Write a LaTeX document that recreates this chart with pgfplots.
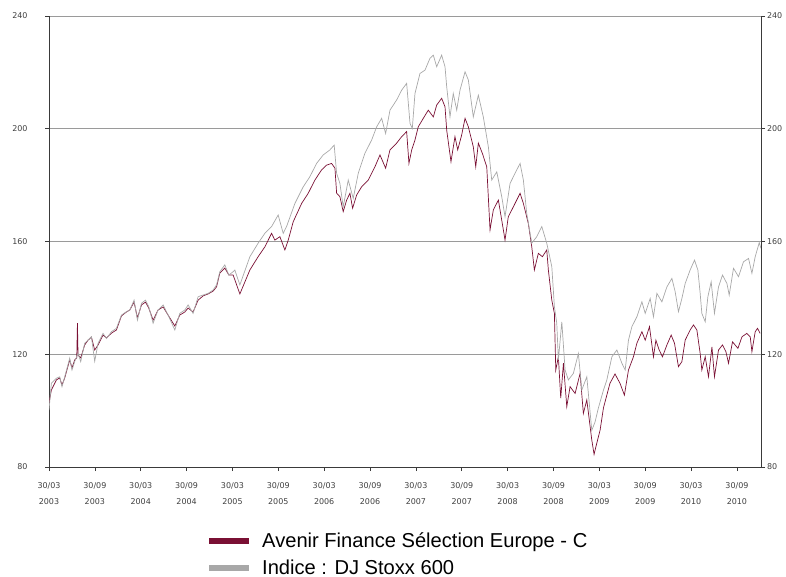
\documentclass[border=0pt]{standalone}
\usepackage{fontspec}
\setmainfont{Liberation Sans}
\newfontfamily\tickfont{DejaVu Sans}
\usepackage{pgfplots}
\pgfplotsset{compat=1.18}
\definecolor{fund}{HTML}{7A1034}
\definecolor{idx}{HTML}{A8A8A8}
\definecolor{legidx}{HTML}{999999}
\definecolor{gridc}{HTML}{9A9A9A}
\definecolor{axc}{HTML}{3A3A3A}
\definecolor{lab}{HTML}{404040}
\begin{document}
\begin{tikzpicture}
\useasboundingbox (-49bp,-110bp) rectangle (737bp,467bp);
\pgfplotsset{common/.style={scale only axis, width=712bp, height=451bp,
  at={(0bp,0bp)}, anchor=south west,
  xmin=0, xmax=93.15, ymin=80, ymax=240, ytick={80,120,160,200,240},
  tick align=outside, major tick length=4bp,
  tick style={axc, line width=0.6bp},
  axis line style={axc, line width=0.8bp},
  ticklabel style={font=\tickfont\fontsize{8}{16}\selectfont, text=lab},
  /pgf/number format/assume math mode=true}}
\begin{axis}[common, axis x line*=bottom, axis y line*=left,
  ymajorgrids, grid style={gridc, line width=0.7bp},
  xtick={0,6,...,90},
  xticklabels={{30/03\\2003},{30/09\\2003},{30/03\\2004},{30/09\\2004},{30/03\\2005},{30/09\\2005},{30/03\\2006},{30/09\\2006},{30/03\\2007},{30/09\\2007},{30/03\\2008},{30/09\\2008},{30/03\\2009},{30/09\\2009},{30/03\\2010},{30/09\\2010}},
  xticklabel style={align=center, yshift=-8bp},
  yticklabel style={xshift=-14bp},
  legend style={at={(0.2205,-0.141)}, anchor=north west, draw=none, fill=none,
    inner sep=0pt, font=\fontsize{20.2}{23}\selectfont, row sep=6.5bp,
    /tikz/every odd column/.style={column sep=4bp},
    nodes={inner xsep=6bp}},
  legend cell align=left,
  legend image code/.code={\draw[#1, line width=6bp] (0bp,0bp) -- (40bp,0bp);},
]
\addplot[fund, line width=0.7bp] coordinates {
(0,102.7) (0.31,107.3) (0.97,110.9) (1.40,111.6) (1.70,109.1) (2.06,111.6) (2.71,118) (3.01,115.1) (3.36,118) (3.63,118.7) (3.72,131) (3.80,119.7) (4.15,118.7) (4.67,123.3) (5.11,125) (5.55,126.1) (5.98,121.5) (6.42,123.3) (7.07,126.8) (7.52,125.8) (8.17,127.5) (8.82,128.6) (9.48,133.6) (10.13,135) (10.57,135.7) (11.13,138.5) (11.57,132.9) (12.10,137.5) (12.62,138.5) (13.05,136.4) (13.62,132.1) (14.27,135.7) (14.93,136.8) (15.58,133.9) (16.46,130) (17.11,133.9) (17.77,135) (18.20,136.4) (18.85,135) (19.51,139.2) (20.16,140.7) (20.82,141.4) (21.47,142.4) (21.92,143.9) (22.35,148.8) (23.00,150.6) (23.53,148.1) (24.09,148.1) (24.97,141.4) (25.62,145.6) (26.28,149.9) (27.36,154.6) (28.24,158.1) (29.12,162.9) (29.55,160.5) (30.21,161.7) (30.86,157) (31.30,160.5) (31.95,167) (33.05,173.5) (33.91,177.1) (34.79,181.8) (35.66,185.4) (36.32,187.1) (36.97,187.7) (37.41,186) (37.63,177.1) (38.06,175.9) (38.49,170.6) (38.94,174.7) (39.37,177.1) (39.72,171.8) (40.25,176.5) (40.90,179.4) (41.77,181.8) (42.64,186.5) (43.30,190.7) (44.04,186) (44.61,192.5) (45.48,194.9) (46.14,197.2) (46.79,199) (47.09,187.7) (47.45,192.5) (47.88,196) (48.31,200.7) (48.97,203.7) (49.62,206.6) (50.28,204.2) (50.72,208.4) (51.37,210.8) (51.81,207.8) (52.03,199.5) (52.59,188.3) (53.11,197.2) (53.47,192.5) (53.99,197.8) (54.43,203.7) (54.86,200.7) (55.51,193.6) (55.83,186.5) (56.17,194.9) (56.69,191.3) (57.27,186.5) (57.70,164.1) (58.13,171.2) (58.79,174.7) (59.23,167.6) (59.66,160.5) (60.09,168.8) (60.75,172.3) (61.63,177.1) (62.06,173.5) (62.71,166.4) (63.16,158.1) (63.50,149.9) (64.02,155.8) (64.55,154.6) (65.12,157) (65.33,149.9) (65.78,139.2) (66.12,134.5) (66.30,114.4) (66.64,119.1) (66.95,104.4) (67.30,116.8) (67.74,101.4) (68.17,108.5) (68.83,106.1) (69.48,113.2) (69.91,99) (70.36,103.8) (71.01,89.6) (71.31,84.5) (71.66,88.4) (72.10,93.1) (72.54,101) (73.39,109.7) (74.05,113) (74.70,109.7) (75.28,105.5) (75.81,114.4) (76.46,119.1) (76.91,123.9) (77.57,128) (78.00,125) (78.56,129.8) (79.08,119.1) (79.40,125) (79.83,121.5) (80.26,119.1) (80.84,123.3) (81.40,126.8) (81.83,123.9) (82.35,115.6) (82.80,117.4) (83.23,125) (83.88,128.6) (84.32,130.4) (84.76,128.6) (85.19,120.3) (85.41,114.4) (85.85,119.1) (86.28,112) (86.73,122.6) (87.06,112) (87.59,121.5) (88.11,123.3) (88.56,120.9) (88.90,116.8) (89.42,124.4) (90.13,122.1) (90.66,126.2) (91.29,127.4) (91.74,126.2) (91.96,120.9) (92.39,128) (92.69,129.2) (93.04,127.4)
};
\addlegendentry{Avenir Finance Sélection Europe - C}
\addplot[idx, line width=0.7bp] coordinates {
(0,100.2) (0.31,109.7) (0.97,111.5) (1.40,112) (1.70,108.5) (2.06,112) (2.71,118.6) (3.01,114.4) (3.36,117.4) (3.80,120.3) (4.15,117.4) (4.67,123.9) (5.11,125) (5.55,126.2) (5.98,117.5) (6.42,123.9) (7.07,127.4) (7.52,125.6) (8.17,128) (8.82,129.2) (9.48,133.9) (10.13,135.1) (10.57,135.7) (11.13,139.2) (11.57,132.1) (12.10,138.1) (12.62,139.2) (13.05,136.9) (13.62,131) (14.27,135.7) (14.93,137.5) (15.58,133.9) (16.46,128.6) (17.11,134.5) (17.77,135.7) (18.20,137.5) (18.85,134.5) (19.51,140.4) (20.16,141) (20.82,141.6) (21.47,142.8) (21.92,144.6) (22.35,149.3) (23.00,151.7) (23.53,148.1) (24.09,149.3) (24.31,149.9) (24.97,144.6) (26.28,154.6) (27.36,159.4) (28.24,162.9) (29.12,165.3) (29.98,169.4) (30.64,162.9) (31.08,165.3) (32.17,173.5) (33.26,179.4) (34.13,183) (35.01,187.7) (35.87,190.7) (36.75,192.5) (37.31,194.2) (37.63,184.2) (38.06,180.6) (38.49,172.3) (39.15,181.8) (39.80,175.3) (40.46,184.2) (41.33,191.3) (42.21,196) (42.87,200.7) (43.52,203.7) (44.04,198.3) (44.61,206.6) (45.48,210.2) (46.14,213.7) (46.79,216.1) (47.23,201.9) (47.53,200.1) (47.88,212.5) (48.53,219.6) (49.19,220.8) (49.84,225) (50.28,226.1) (50.72,222) (51.37,226.1) (51.81,222) (52.03,214.9) (52.46,204.2) (52.89,212.5) (53.34,206.6) (53.77,213.7) (54.43,220.2) (54.86,217.3) (55.51,204.2) (56.17,211.9) (56.82,204.2) (57.48,193.6) (57.92,181.8) (58.58,184.7) (59.23,175.9) (59.66,168.8) (60.32,180.6) (60.97,184.2) (61.63,187.7) (62.06,181.8) (62.50,170) (63.16,159.4) (63.81,161.7) (64.47,165.3) (65.12,159.4) (65.78,151.1) (66.12,136.9) (66.43,131) (66.64,118) (67.09,131.5) (67.52,114.4) (67.95,110.9) (68.60,113.2) (69.26,120.3) (69.70,107.3) (70.36,112) (71.01,93) (71.44,96) (71.88,101) (72.54,107.3) (72.98,110.9) (73.64,119.1) (74.29,121.5) (74.95,116.8) (75.38,114.4) (75.81,125) (76.26,129.8) (76.91,133.3) (77.57,138.6) (78.00,134.5) (78.65,139.8) (79.08,133.3) (79.53,141.6) (80.18,138.6) (80.84,143.9) (81.49,146.9) (81.92,142.2) (82.35,135.1) (82.80,139.8) (83.23,145.1) (83.88,149.9) (84.45,153.4) (84.89,149.9) (85.19,141.6) (85.41,134.5) (85.85,131.5) (86.20,140.4) (86.63,145.7) (87.06,134.5) (87.59,143.9) (88.11,148.1) (88.69,145.1) (88.99,141) (89.55,150.5) (90.21,147.5) (90.86,152.8) (91.52,154) (91.96,148.7) (92.39,154.6) (92.92,159.6) (93.14,157.6)
};
\addlegendentry{Indice : DJ Stoxx 600}
\end{axis}
\begin{axis}[common, axis y line*=right, axis x line=none,
  yticklabel style={xshift=-1.5bp}]
\end{axis}
\end{tikzpicture}
\end{document}
